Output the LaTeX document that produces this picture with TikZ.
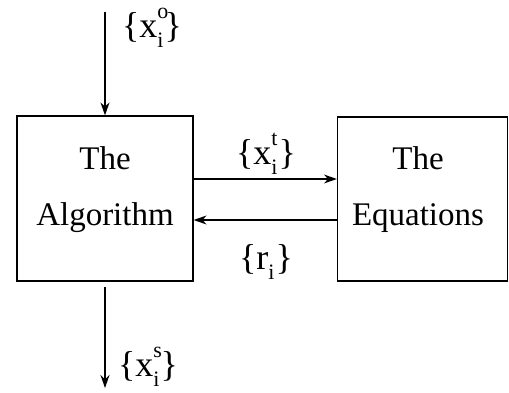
\documentclass[tikz,border=0pt]{standalone}
\usepackage{fontspec}
\setmainfont{Liberation Serif}
\usetikzlibrary{arrows.meta}
\newcommand{\setv}[2]{\{x\rlap{\raisebox{0.52em}{\fontsize{22}{22}\selectfont #2}}\raisebox{-0.3em}{\fontsize{22}{22}\selectfont #1}\kern1pt\}}
\tikzset{
  boxnode/.style={draw, line width=1.2pt, inner sep=0pt},
  txt/.style={font=\fontsize{33}{56}\selectfont, align=center, inner sep=0pt},
  lbl/.style={font=\fontsize{36}{40}\selectfont, inner sep=0pt},
  conn/.style={line width=1.2pt, -{Stealth[length=13pt,width=9pt]}}
}
\begin{document}
\begin{tikzpicture}[x=1pt,y=-1pt]
\useasboundingbox (0,0) rectangle (509,393);
\node[boxnode, minimum width=176pt, minimum height=165pt] (alg) at (105,198.5) {};
\node[boxnode, minimum width=170pt, minimum height=164pt] (eq) at (422.5,199) {};
\node[txt] (algt) at (105,190) {The\\Algorithm};
\node[txt] (eqt) at (418,190) {The\\Equations};
\coordinate (top) at (105,12);
\coordinate (bstart) at (105,287);
\coordinate (bend) at (105,388);
\draw[conn] (top) -- (alg.north);
\draw[conn] (bstart) -- (bend);
\draw[conn] (alg.east |- 0,179) -- (eq.west |- 0,179);
\draw[conn] (eq.west |- 0,220) -- (alg.east |- 0,220);
\node[lbl] (xo) at (152,28) {\setv{i}{o}};
\node[lbl] (xt) at (266,154) {\setv{i}{t}};
\node[lbl] (ri) at (266,262) {\{r\raisebox{-0.3em}{\fontsize{22}{22}\selectfont i}\kern1pt\}};
\node[lbl] (xs) at (148,367) {\setv{i}{s}};
\end{tikzpicture}
\end{document}
